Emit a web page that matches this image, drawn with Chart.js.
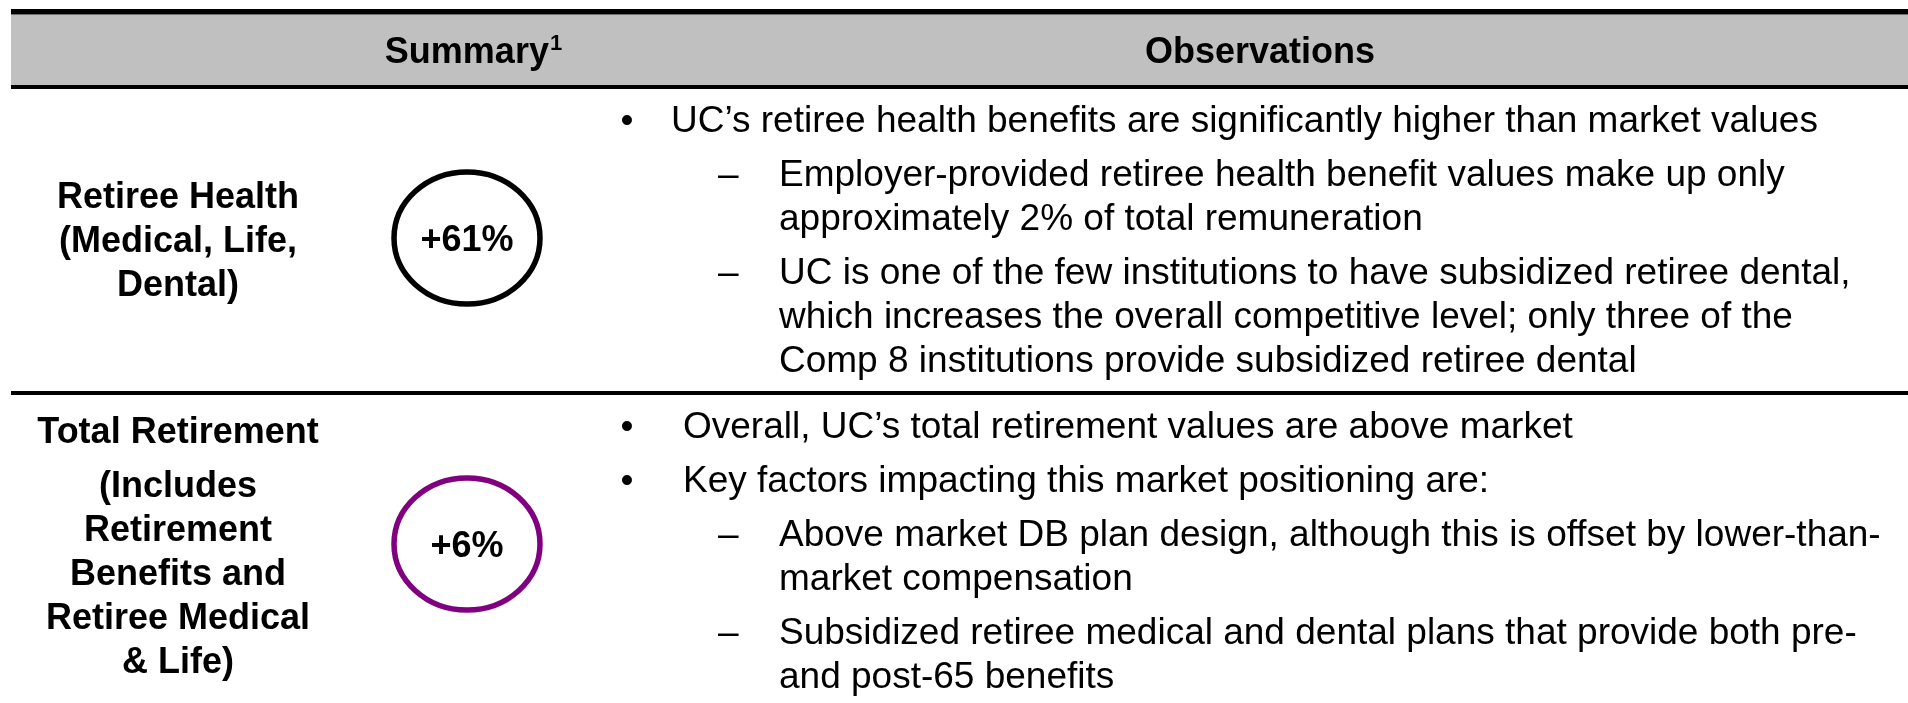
<!DOCTYPE html>
<html>
<head>
<meta charset="utf-8">
<style>
  html, body { margin: 0; padding: 0; background: #fff; overflow: hidden; }
  canvas { display: block; }
</style>
</head>
<body>
<canvas id="chart" width="1908" height="703"></canvas>
<script src="https://cdn.jsdelivr.net/npm/chart.js@4.4.1/dist/chart.umd.min.js"></script>
<script>
// rows of the table, one summary value per row
const rows = ['Retiree Health', 'Total Retirement'];
const rowTitles = [
    [['Retiree Health', '(Medical, Life,', 'Dental)']],
    [['Total Retirement'], ['(Includes', 'Retirement', 'Benefits and', 'Retiree Medical', '& Life)']]
];
const summaryValues = [61, 6];
const summaryColors = ['#000000', '#800080'];
const headers = ['Summary', 'Observations'];

// level 0 = bullet, level 1 = dash
const observations = [
    [
        { level: 0, lines: ['UC’s retiree health benefits are significantly higher than market values'] },
        { level: 1, lines: ['Employer-provided retiree health benefit values make up only', 'approximately 2% of total remuneration'] },
        { level: 1, lines: ['UC is one of the few institutions to have subsidized retiree dental,', 'which increases the overall competitive level; only three of the', 'Comp 8 institutions provide subsidized retiree dental'] }
    ],
    [
        { level: 0, lines: ['Overall, UC’s total retirement values are above market'] },
        { level: 0, lines: ['Key factors impacting this market positioning are:'] },
        { level: 1, lines: ['Above market DB plan design, although this is offset by lower-than-', 'market compensation'] },
        { level: 1, lines: ['Subsidized retiree medical and dental plans that provide both pre-', 'and post-65 benefits'] }
    ]
];

const FONT = '"Liberation Sans", Arial, Helvetica, sans-serif';
const LEFT = 11;
const LINE = 44;
const PARA = 54;

function ring(color) {
    const c = document.createElement('canvas');
    c.width = 160;
    c.height = 146;
    const g = c.getContext('2d');
    g.strokeStyle = color;
    g.lineWidth = 5.5;
    g.beginPath();
    g.ellipse(80, 73, 73, 66, 0, 0, Math.PI * 2);
    g.stroke();
    return c;
}

const tablePlugin = {
    id: 'table',
    beforeDraw(chart) {
        const { ctx, width, chartArea, scales: { y } } = chart;
        const mid = (y.getPixelForValue(0) + y.getPixelForValue(1)) / 2;
        ctx.save();
        ctx.fillStyle = '#c0c0c0';
        ctx.fillRect(LEFT, 14.5, width - LEFT, chartArea.top - 14.5);
        ctx.fillStyle = '#000';
        ctx.fillRect(LEFT, 9, width - LEFT, 5.5);
        ctx.fillRect(LEFT, chartArea.top, width - LEFT, 4);
        ctx.fillRect(LEFT, mid, width - LEFT, 4);
        ctx.restore();
    },
    afterDraw(chart) {
        const { ctx, scales: { y } } = chart;
        const step = y.getPixelForValue(1) - y.getPixelForValue(0);
        ctx.save();
        ctx.fillStyle = '#000';
        ctx.textBaseline = 'alphabetic';

        // header
        ctx.font = 'bold 36px ' + FONT;
        const w1 = ctx.measureText(headers[0]).width;
        ctx.font = 'bold 22px ' + FONT;
        const w2 = ctx.measureText('1').width;
        let hx = 473 - (w1 + w2) / 2;
        ctx.textAlign = 'left';
        ctx.font = 'bold 36px ' + FONT;
        ctx.fillText(headers[0], hx, 63);
        ctx.font = 'bold 22px ' + FONT;
        ctx.fillText('1', hx + w1 + 1, 50);
        ctx.font = 'bold 36px ' + FONT;
        ctx.textAlign = 'center';
        ctx.fillText(headers[1], 1260, 63);

        rows.forEach((r, i) => {
            const cy = y.getPixelForValue(i);
            const rowTop = cy - step / 2;

            // row titles, centred on the row
            const paras = rowTitles[i];
            let total = 0;
            paras.forEach((p, k) => { total += (k ? PARA : 0) + (p.length - 1) * LINE; });
            let by = cy - total / 2 + 14;
            ctx.font = 'bold 36px ' + FONT;
            ctx.textAlign = 'center';
            paras.forEach((p, k) => {
                if (k) by += PARA;
                p.forEach((line, j) => {
                    if (j) by += LINE;
                    ctx.fillText(line, 178, by);
                });
            });

            // observations
            ctx.font = '37px ' + FONT;
            let oy = rowTop + 47;
            observations[i].forEach((item, k) => {
                if (k) oy += PARA;
                if (item.level === 0) {
                    ctx.textAlign = 'center';
                    ctx.fillText('•', 627, oy);
                } else {
                    ctx.textAlign = 'left';
                    ctx.fillText('–', 718, oy);
                }
                ctx.textAlign = 'left';
                const tx = item.level === 0 ? (i === 0 ? 671 : 683) : 779;
                item.lines.forEach((line, j) => {
                    if (j) oy += LINE;
                    ctx.fillText(line, tx, oy);
                });
            });
        });
        ctx.restore();
    },
    afterDatasetsDraw(chart) {
        const { ctx } = chart;
        const meta = chart.getDatasetMeta(0);
        ctx.save();
        ctx.fillStyle = '#000';
        ctx.font = 'bold 36px ' + FONT;
        ctx.textAlign = 'center';
        ctx.textBaseline = 'alphabetic';
        meta.data.forEach((pt, i) => {
            ctx.fillText('+' + summaryValues[i] + '%', pt.x, pt.y + 13);
        });
        ctx.restore();
    }
};

const chart = new Chart(document.getElementById('chart'), {
    type: 'scatter',
    data: {
        datasets: [{
            label: headers[0],
            data: rows.map(r => ({ x: headers[0], y: r })),
            pointStyle: summaryColors.map(ring),
            pointRadius: 70,
            borderColor: summaryColors,
            clip: false
        }]
    },
    options: {
        responsive: false,
        animation: false,
        devicePixelRatio: 1,
        layout: {
            autoPadding: false,
            padding: { top: 85, bottom: 6, left: 316, right: 1290 }
        },
        scales: {
            x: { type: 'category', labels: [headers[0]], offset: true, display: false },
            y: { type: 'category', labels: rows, offset: true, display: false }
        },
        plugins: {
            legend: { display: false },
            tooltip: { enabled: false }
        },
        events: []
    },
    plugins: [tablePlugin]
});
</script>
</body>
</html>
